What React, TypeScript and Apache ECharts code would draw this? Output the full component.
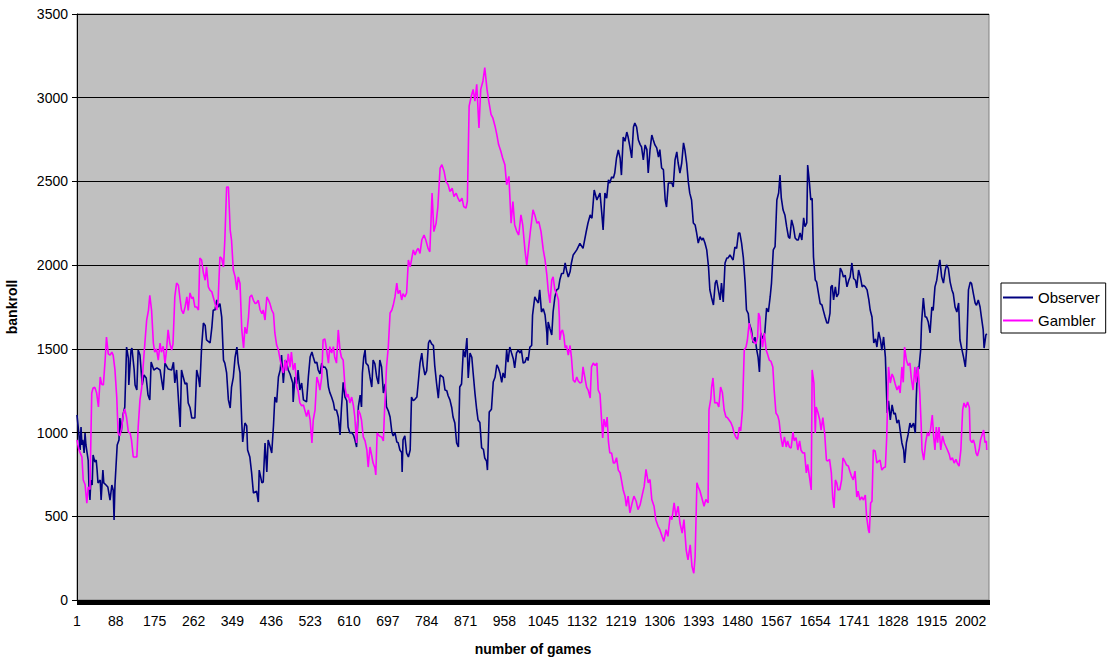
import React, { useEffect, useRef } from "react";
import * as echarts from "echarts";

// Game numbering on the horizontal axis
const FIRST_GAME = 1;
const LAST_GAME = 2043;
const GAME_LABEL_STEP = 87;

// Bankroll axis
const BANKROLL_MIN = 0;
const BANKROLL_MAX = 3500;
const BANKROLL_STEP = 500;

const SERIES_NAMES = ["Observer", "Gambler"];

// [game number, bankroll]
const observer: [number, number][] = [
  [1,1105],[5,997],[8,896],[10,1033],[12,926],[14,956],[17,878],[19,997],[21,926],[26,836],[28,657],[30,597],[32,717],[35,687],[37,866],[41,824],[44,836],[46,776],[48,699],[53,717],[55,597],[59,776],[61,699],[66,687],[70,675],[75,597],[79,687],[82,657],[84,478],[86,687],[91,926],[95,956],[97,1087],[100,1003],[104,1105],[108,1153],[112,1511],[116,1445],[117,1284],[122,1493],[124,1505],[129,1374],[131,1284],[135,1254],[138,1493],[142,1463],[147,1284],[151,1344],[156,1326],[160,1224],[164,1195],[167,1421],[173,1374],[180,1386],[187,1374],[194,1254],[198,1415],[205,1380],[213,1374],[217,1420],[220,1296],[224,1374],[232,1033],[235,1374],[239,1330],[243,1290],[247,1296],[250,1177],[254,1150],[258,1087],[265,1087],[269,1374],[273,1330],[276,1272],[280,1511],[284,1654],[288,1640],[291,1553],[299,1535],[303,1630],[306,1732],[310,1732],[314,1792],[317,1750],[321,1770],[325,1690],[329,1433],[332,1415],[336,1356],[340,1195],[344,1147],[347,1272],[351,1330],[355,1451],[359,1511],[362,1415],[366,1356],[370,1057],[372,944],[377,1057],[381,1040],[383,896],[388,854],[392,759],[396,639],[403,650],[407,585],[409,776],[415,700],[418,705],[422,938],[426,765],[429,956],[433,920],[437,878],[441,1045],[444,1212],[448,1180],[452,1332],[456,1374],[459,1463],[463,1296],[467,1433],[470,1420],[474,1374],[478,1350],[484,1296],[485,1183],[489,1332],[493,1290],[496,1374],[500,1254],[504,1296],[508,1195],[515,1183],[519,1332],[523,1451],[527,1481],[530,1451],[534,1415],[538,1420],[541,1374],[545,1350],[549,1415],[552,1390],[556,1392],[560,1374],[564,1272],[567,1240],[571,1212],[575,1180],[578,1135],[582,1135],[586,1093],[590,986],[593,1140],[597,1300],[601,1212],[605,1190],[608,1033],[612,997],[616,1000],[620,986],[623,960],[627,914],[631,1153],[635,1224],[638,1153],[640,1356],[643,1451],[646,1493],[648,1415],[653,1400],[657,1332],[661,1272],[664,1433],[668,1410],[672,1332],[676,1290],[679,1433],[683,1392],[687,1236],[691,1290],[694,1153],[698,1130],[702,1093],[706,1003],[709,980],[713,1000],[717,944],[720,940],[724,896],[728,880],[729,765],[731,956],[735,980],[739,878],[743,854],[747,896],[750,1212],[754,1190],[758,1200],[762,1212],[765,1296],[769,1415],[773,1475],[776,1400],[780,1344],[784,1370],[788,1535],[791,1553],[795,1530],[799,1520],[802,1400],[806,1296],[810,1206],[814,1344],[821,1330],[825,1254],[829,1250],[832,1220],[836,1195],[840,1150],[843,1093],[847,1057],[851,938],[855,914],[858,1272],[862,1290],[866,1493],[870,1450],[874,1565],[877,1326],[881,1475],[885,1450],[888,1356],[892,1236],[896,1135],[899,1075],[903,1060],[907,908],[911,900],[914,848],[918,830],[920,776],[924,1123],[929,1140],[933,1302],[937,1330],[941,1404],[944,1390],[948,1356],[952,1300],[955,1356],[959,1326],[963,1493],[966,1420],[970,1511],[974,1475],[978,1440],[981,1386],[985,1475],[989,1493],[993,1475],[996,1493],[1000,1415],[1004,1420],[1008,1450],[1011,1430],[1015,1511],[1019,1520],[1021,1702],[1026,1810],[1030,1790],[1034,1774],[1037,1852],[1041,1720],[1045,1740],[1049,1702],[1053,1595],[1054,1523],[1056,1660],[1060,1620],[1064,1583],[1067,1720],[1071,1810],[1075,1852],[1079,1860],[1082,1911],[1086,1950],[1090,1950],[1094,2013],[1097,1970],[1101,1929],[1105,1960],[1108,2013],[1112,2061],[1120,2091],[1127,2130],[1134,2100],[1141,2198],[1145,2250],[1150,2300],[1154,2280],[1159,2449],[1165,2389],[1172,2431],[1176,2311],[1179,2210],[1183,2431],[1187,2400],[1191,2509],[1194,2490],[1198,2527],[1202,2520],[1205,2550],[1209,2640],[1213,2688],[1217,2640],[1220,2538],[1224,2765],[1228,2740],[1232,2795],[1235,2765],[1239,2706],[1243,2640],[1247,2825],[1250,2849],[1254,2825],[1258,2747],[1262,2720],[1265,2706],[1269,2628],[1273,2718],[1277,2690],[1280,2550],[1284,2688],[1288,2777],[1291,2750],[1295,2718],[1299,2700],[1303,2646],[1306,2690],[1310,2580],[1314,2570],[1318,2389],[1321,2347],[1325,2491],[1329,2491],[1333,2491],[1336,2467],[1340,2628],[1344,2676],[1347,2610],[1351,2550],[1355,2610],[1359,2730],[1362,2690],[1366,2610],[1370,2491],[1373,2430],[1377,2389],[1381,2252],[1385,2240],[1388,2198],[1392,2132],[1396,2170],[1400,2150],[1403,2162],[1407,2132],[1411,2091],[1415,1989],[1418,1852],[1422,1804],[1426,1762],[1430,1893],[1433,1910],[1437,1852],[1441,1792],[1444,1893],[1448,1780],[1452,2013],[1456,2043],[1459,2043],[1463,2061],[1467,2043],[1470,2031],[1474,2108],[1478,2100],[1482,2192],[1485,2192],[1489,2132],[1493,2043],[1497,1893],[1500,1732],[1504,1710],[1506,1654],[1511,1613],[1515,1535],[1519,1570],[1523,1493],[1526,1450],[1529,1362],[1532,1595],[1536,1560],[1541,1595],[1545,1744],[1549,1720],[1553,1810],[1556,1893],[1560,2091],[1564,2110],[1568,2389],[1572,2431],[1575,2538],[1578,2400],[1582,2329],[1586,2300],[1590,2228],[1594,2168],[1597,2160],[1601,2270],[1605,2230],[1609,2162],[1613,2150],[1616,2150],[1620,2192],[1624,2150],[1628,2282],[1631,2230],[1635,2252],[1637,2598],[1641,2491],[1644,2389],[1647,2400],[1650,2049],[1654,1911],[1657,1900],[1661,1834],[1665,1770],[1669,1762],[1672,1730],[1676,1690],[1680,1654],[1683,1654],[1687,1714],[1689,1870],[1692,1880],[1695,1792],[1699,1870],[1702,1810],[1706,1830],[1710,1983],[1714,1960],[1717,1929],[1721,1940],[1725,1870],[1729,1910],[1732,1929],[1736,2013],[1740,1920],[1744,1910],[1747,1864],[1751,1971],[1755,1930],[1759,1870],[1762,1880],[1766,1870],[1770,1852],[1774,1792],[1777,1732],[1781,1690],[1785,1535],[1789,1560],[1792,1511],[1796,1601],[1800,1553],[1803,1493],[1807,1571],[1811,1451],[1815,1117],[1818,1190],[1822,1075],[1826,1165],[1830,1110],[1833,1117],[1837,1057],[1841,1075],[1844,1015],[1848,938],[1852,896],[1854,818],[1858,938],[1862,990],[1866,1057],[1869,1030],[1874,1057],[1878,997],[1880,1195],[1883,1392],[1886,1380],[1890,1493],[1892,1654],[1896,1804],[1900,1690],[1903,1690],[1907,1660],[1911,1595],[1915,1750],[1918,1730],[1922,1870],[1926,1910],[1930,1989],[1933,2031],[1937,1930],[1941,1893],[1945,1970],[1948,2001],[1952,1980],[1956,1899],[1960,1852],[1963,1830],[1967,1750],[1971,1720],[1975,1774],[1978,1553],[1982,1500],[1986,1451],[1990,1392],[1993,1500],[1997,1852],[2001,1899],[2004,1890],[2008,1830],[2012,1774],[2015,1760],[2019,1792],[2023,1750],[2026,1690],[2030,1613],[2032,1505],[2036,1583],[2038,1590],
];

// [game number, bankroll]
const gambler: [number, number][] = [
  [1,956],[5,900],[8,880],[12,854],[15,717],[19,690],[23,579],[26,675],[30,660],[34,1236],[37,1266],[41,1270],[45,1236],[49,1153],[53,1332],[56,1290],[60,1284],[64,1433],[67,1571],[71,1470],[75,1463],[79,1480],[82,1463],[86,1374],[90,1212],[93,997],[97,980],[101,1030],[105,1117],[108,1140],[112,1090],[116,1003],[120,997],[123,956],[127,854],[131,854],[135,854],[138,1033],[142,1195],[146,1270],[149,1392],[153,1535],[157,1672],[161,1730],[164,1820],[168,1730],[172,1535],[175,1480],[179,1500],[183,1433],[187,1535],[190,1480],[194,1515],[198,1415],[201,1480],[205,1613],[209,1530],[213,1493],[216,1530],[220,1810],[224,1893],[228,1880],[232,1792],[235,1732],[239,1710],[243,1750],[247,1810],[250,1730],[254,1834],[258,1800],[261,1810],[265,1750],[269,1750],[273,1732],[276,2043],[280,2030],[284,1953],[288,1910],[291,1990],[295,1870],[299,1850],[303,1840],[306,1810],[310,1770],[314,1732],[317,1790],[321,2049],[325,2040],[329,1989],[332,2150],[336,2467],[340,2467],[344,2210],[347,2150],[351,1971],[355,1930],[359,1852],[362,1930],[366,1890],[370,1613],[374,1505],[377,1630],[381,1590],[385,1690],[388,1810],[392,1822],[396,1790],[400,1770],[403,1774],[407,1790],[411,1732],[415,1710],[418,1732],[422,1672],[426,1810],[430,1790],[433,1770],[437,1732],[441,1710],[444,1595],[448,1523],[452,1493],[456,1433],[459,1393],[463,1356],[467,1433],[470,1370],[474,1470],[478,1390],[481,1481],[485,1374],[489,1415],[493,1272],[496,1250],[500,1177],[504,1160],[508,1165],[511,1135],[515,1095],[519,1135],[523,1075],[527,938],[530,1075],[534,1135],[538,1332],[542,1296],[545,1254],[549,1332],[552,1553],[556,1560],[560,1493],[564,1415],[567,1513],[571,1475],[575,1513],[578,1450],[582,1415],[586,1613],[590,1490],[593,1450],[597,1433],[601,1272],[605,1210],[608,1230],[612,1177],[616,1212],[620,1160],[623,1093],[627,938],[631,1135],[635,1110],[638,1075],[642,974],[646,950],[650,896],[653,794],[657,914],[661,860],[664,818],[668,790],[670,747],[673,997],[678,980],[683,974],[687,950],[689,1093],[693,1332],[694,1390],[698,1511],[702,1714],[706,1732],[709,1760],[713,1810],[717,1893],[720,1830],[724,1850],[728,1792],[731,1830],[735,1810],[739,1834],[743,2031],[747,1990],[750,2031],[754,2091],[758,2060],[762,2091],[765,2100],[769,2070],[773,2150],[778,2180],[782,2150],[787,2100],[791,2080],[796,2430],[800,2200],[805,2250],[809,2350],[814,2580],[818,2600],[823,2560],[827,2500],[832,2480],[836,2440],[841,2460],[845,2410],[850,2430],[854,2400],[858,2380],[863,2400],[867,2350],[872,2340],[875,2380],[879,2950],[883,3000],[888,3050],[892,2980],[896,3080],[901,2820],[905,3050],[910,3100],[914,3180],[919,3050],[923,2980],[928,2900],[932,2880],[937,2830],[941,2780],[945,2720],[950,2680],[954,2640],[959,2600],[963,2480],[968,2530],[973,2250],[977,2380],[981,2240],[986,2200],[990,2180],[995,2300],[999,2240],[1004,2091],[1008,2001],[1012,2100],[1016,2200],[1022,2330],[1026,2300],[1031,2250],[1035,2260],[1040,2200],[1045,2091],[1049,2031],[1053,1941],[1056,1850],[1060,1774],[1064,1911],[1067,1930],[1071,1852],[1075,1830],[1079,1792],[1081,1690],[1082,1553],[1085,1600],[1088,1613],[1091,1580],[1094,1505],[1097,1520],[1101,1463],[1105,1520],[1108,1451],[1112,1314],[1116,1300],[1120,1332],[1123,1310],[1127,1296],[1131,1300],[1134,1392],[1138,1330],[1142,1272],[1146,1250],[1150,1206],[1153,1392],[1157,1415],[1161,1400],[1165,1415],[1168,1254],[1172,1230],[1176,1057],[1178,968],[1181,1080],[1185,1033],[1188,1093],[1191,944],[1194,878],[1198,878],[1202,818],[1205,818],[1209,850],[1213,776],[1217,760],[1220,717],[1224,657],[1228,620],[1231,560],[1235,620],[1239,520],[1244,580],[1248,620],[1253,590],[1257,540],[1262,570],[1266,620],[1271,680],[1275,780],[1280,700],[1284,720],[1288,600],[1293,560],[1297,480],[1302,440],[1306,420],[1311,380],[1315,350],[1320,420],[1324,380],[1329,500],[1333,480],[1338,580],[1342,500],[1347,560],[1351,460],[1356,400],[1360,480],[1365,300],[1369,240],[1374,330],[1378,200],[1382,160],[1385,260],[1389,700],[1392,675],[1396,650],[1401,600],[1405,560],[1409,600],[1414,580],[1416,1135],[1420,1200],[1422,1272],[1425,1326],[1429,1177],[1434,1180],[1438,1153],[1442,1272],[1446,1240],[1450,1135],[1454,1093],[1457,1090],[1461,1075],[1465,1060],[1469,1033],[1472,1000],[1476,974],[1480,960],[1484,1033],[1487,1010],[1491,1135],[1495,1493],[1499,1510],[1502,1553],[1506,1654],[1510,1600],[1514,1553],[1517,1540],[1521,1530],[1525,1571],[1527,1714],[1530,1690],[1532,1595],[1536,1510],[1540,1595],[1544,1493],[1547,1470],[1551,1433],[1555,1425],[1559,1392],[1562,1254],[1566,1117],[1570,1100],[1573,1070],[1577,974],[1581,914],[1585,974],[1589,914],[1592,950],[1596,914],[1600,908],[1604,1003],[1607,950],[1611,970],[1615,896],[1619,950],[1622,896],[1626,878],[1630,880],[1634,759],[1637,810],[1641,735],[1645,657],[1647,1374],[1651,1296],[1654,997],[1656,1153],[1660,1120],[1664,1075],[1667,1015],[1671,1090],[1675,997],[1679,836],[1682,830],[1686,840],[1690,759],[1693,615],[1696,550],[1699,717],[1702,700],[1705,657],[1709,660],[1713,717],[1716,848],[1720,830],[1724,806],[1728,800],[1732,765],[1735,740],[1739,717],[1743,770],[1747,615],[1750,650],[1754,597],[1758,615],[1762,597],[1766,627],[1769,496],[1773,418],[1775,400],[1778,579],[1781,590],[1784,896],[1788,890],[1792,818],[1796,830],[1799,836],[1803,776],[1807,790],[1811,794],[1814,974],[1818,1392],[1822,1296],[1826,1350],[1829,1332],[1833,1290],[1837,1254],[1841,1280],[1844,1236],[1848,1392],[1851,1300],[1854,1511],[1858,1433],[1862,1400],[1866,1415],[1869,1326],[1873,1254],[1877,1392],[1880,1300],[1884,1392],[1888,1236],[1891,1057],[1893,896],[1897,836],[1901,938],[1905,1000],[1908,980],[1912,1015],[1916,1105],[1919,980],[1922,896],[1925,1033],[1928,940],[1931,1033],[1935,896],[1939,980],[1943,938],[1946,920],[1950,896],[1954,870],[1957,836],[1961,850],[1965,818],[1969,840],[1972,818],[1976,800],[1980,896],[1984,1135],[1987,1177],[1991,1150],[1995,1183],[1999,1150],[2001,956],[2005,940],[2008,956],[2011,930],[2014,878],[2017,860],[2021,900],[2024,956],[2028,990],[2031,1015],[2034,940],[2037,950],[2038,896],
];

// One category per game; every game gets a tick, every 87th game a label
const GAMES = Array.from({ length: LAST_GAME - FIRST_GAME + 1 }, (_, i) => String(i + FIRST_GAME));

const SERIES_COLORS = ["#000080", "#ff00ff"];
const FONT = "'Liberation Sans', Arial, Helvetica, sans-serif";

export default function App() {
  const ref = useRef<HTMLDivElement>(null);

  useEffect(() => {
    if (!ref.current) return;
    const chart = echarts.init(ref.current, null, { renderer: "svg" });
    const toPoints = (rows: [number, number][]) =>
      rows.map(([game, bankroll]) => [game - FIRST_GAME, bankroll]);
    const axisText = { color: "#000", fontSize: 14, fontFamily: FONT };

    chart.setOption({
      animation: false,
      backgroundColor: "#ffffff",
      textStyle: { fontFamily: FONT },
      grid: {
        left: 77,
        top: 14,
        right: 122,
        bottom: 57,
        containLabel: false,
        outerBoundsMode: "none",
        show: true,
        backgroundColor: "#c0c0c0",
        borderColor: "#808080",
        borderWidth: 1,
      },
      legend: {
        orient: "vertical",
        left: 1001,
        top: 283,
        data: SERIES_NAMES,
        icon: "rect",
        itemWidth: 30,
        itemHeight: 2,
        itemGap: 8,
        itemTextGap: 5,
        padding: [7, 6, 5, 2],
        backgroundColor: "#ffffff",
        borderColor: "#000000",
        borderWidth: 1,
        borderRadius: 0,
        textStyle: { color: "#000", fontSize: 15, fontFamily: FONT },
      },
      xAxis: {
        type: "category",
        data: GAMES,
        boundaryGap: false,
        name: "number of games",
        nameLocation: "middle",
        nameGap: 42,
        nameTextStyle: { ...axisText, fontWeight: "bold" },
        axisLine: { show: true, onZero: false, lineStyle: { color: "#000", width: 1 } },
        axisTick: {
          show: true,
          interval: 0,
          length: 5,
          lineStyle: { color: "#000", width: 1 },
        },
        axisLabel: {
          ...axisText,
          margin: 14,
          interval: (index: number) => index % GAME_LABEL_STEP === 0,
          hideOverlap: false,
        },
        splitLine: { show: false },
      },
      yAxis: {
        type: "value",
        min: BANKROLL_MIN,
        max: BANKROLL_MAX,
        interval: BANKROLL_STEP,
        name: "bankroll",
        nameLocation: "middle",
        nameGap: 58,
        nameRotate: 90,
        nameTextStyle: { ...axisText, fontWeight: "bold" },
        axisLine: { show: true, lineStyle: { color: "#000", width: 1 } },
        axisTick: { show: true, length: 5, lineStyle: { color: "#000", width: 1 } },
        axisLabel: { ...axisText, margin: 9, formatter: (v: number) => String(v) },
        splitLine: { show: true, lineStyle: { color: "#000", width: 1 } },
      },
      series: [
        {
          name: SERIES_NAMES[0],
          type: "line",
          data: toPoints(observer),
          symbol: "none",
          lineStyle: { color: SERIES_COLORS[0], width: 1.6 },
          itemStyle: { color: SERIES_COLORS[0] },
        },
        {
          name: SERIES_NAMES[1],
          type: "line",
          data: toPoints(gambler),
          symbol: "none",
          lineStyle: { color: SERIES_COLORS[1], width: 1.6 },
          itemStyle: { color: SERIES_COLORS[1] },
        },
      ],
    });

    return () => chart.dispose();
  }, []);

  return (
    <div
      ref={ref}
      style={{ position: "absolute", left: 0, top: 0, width: 1111, height: 657 }}
    />
  );
}
